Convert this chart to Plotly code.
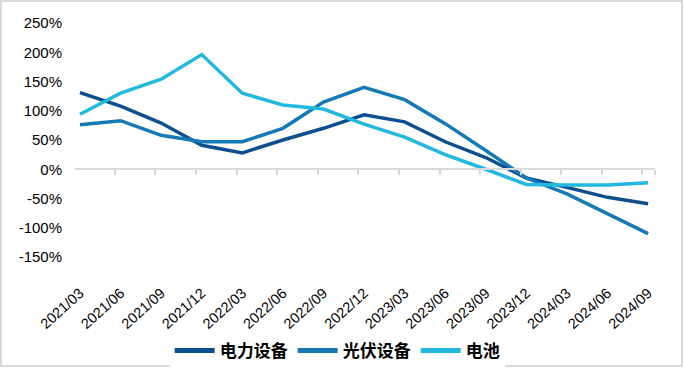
import plotly.graph_objects as go

categories = ["2021/03", "2021/06", "2021/09", "2021/12", "2022/03", "2022/06", "2022/09",
              "2022/12", "2023/03", "2023/06", "2023/09", "2023/12", "2024/03", "2024/06", "2024/09"]
power_equipment = [131, 108, 79, 41, 28, 50, 70, 93, 81, 47, 20, -15, -31, -48, -59]
pv_equipment = [76, 83, 58, 47, 47, 70, 115, 140, 119, 78, 32, -15, -42, -76, -110]
battery = [94, 130, 154, 196, 130, 110, 103, 77, 55, 25, 0, -26, -27, -27, -23]
y_ticks = [-150, -100, -50, 0, 50, 100, 150, 200, 250]

series = [("电力设备", power_equipment, "#0D4E8E"),
          ("光伏设备", pv_equipment, "#1479B4"),
          ("电池", battery, "#22B8E0")]

W, H = 684, 368
L, R, T, B = 75, 29, 23, 111
pw, ph = W - L - R, H - T - B

xs = list(range(len(categories)))
fig = go.Figure()
for name, vals, col in series:
    fig.add_trace(go.Scatter(x=xs, y=vals, mode="lines", name=name,
                             line=dict(color=col, width=3.5)))

xr = [-0.123, len(categories) - 1 + 0.17]
fig.update_layout(
    width=W, height=H,
    margin=dict(l=L, r=R, t=T, b=B, autoexpand=False),
    paper_bgcolor="white", plot_bgcolor="white",
    font=dict(family="Liberation Sans, Arial", color="#000000"),
    showlegend=True,
    legend=dict(orientation="h", x=0.452, xanchor="center", y=(T + ph - 351) / ph, yanchor="middle",
                font=dict(family="Noto Sans CJK SC", size=17, color="#000", weight="bold"),
                itemwidth=40, tracegroupgap=0, itemsizing="constant"),
    xaxis=dict(range=xr, tickmode="array", tickvals=xs, ticktext=categories, automargin=False,
               tickangle=-42, tickfont=dict(size=14.5), showgrid=False, zeroline=False,
               showline=False, ticks="", ticklabelstandoff=24),
    yaxis=dict(range=[-150, 250], tickvals=y_ticks, ticktext=[f"{v}%" for v in y_ticks],
               automargin=False,
               tickfont=dict(size=15), showgrid=False, zeroline=False, showline=False, ticks="",
               ticklabelstandoff=12),
    xaxis2=dict(range=xr, overlaying="x", anchor="free", position=150 / 400, automargin=False,
                tickmode="array", tickvals=[i - 0.14 for i in xs] + [len(categories) - 1 + 0.17],
                showticklabels=False, ticks="outside", ticklen=5, tickcolor="#D9D9D9", tickwidth=2,
                showline=True, linecolor="#D9D9D9", linewidth=2, showgrid=False, zeroline=False),
)
fig.add_trace(go.Scatter(x=[0], y=[0], xaxis="x2", mode="markers", marker=dict(opacity=0),
                         showlegend=False, hoverinfo="skip"))
fig.add_shape(type="rect", xref="paper", yref="paper",
              x0=(1 - L) / pw, x1=(W - 2 - L) / pw,
              y0=(T + ph - (H - 2)) / ph, y1=(T + ph - 1) / ph,
              line=dict(color="#D9D9D9", width=2), layer="below")
fig.write_html("out.html", config={"displayModeBar": False},
               post_script="document.body.style.margin='0px';document.body.style.overflow='hidden';")
